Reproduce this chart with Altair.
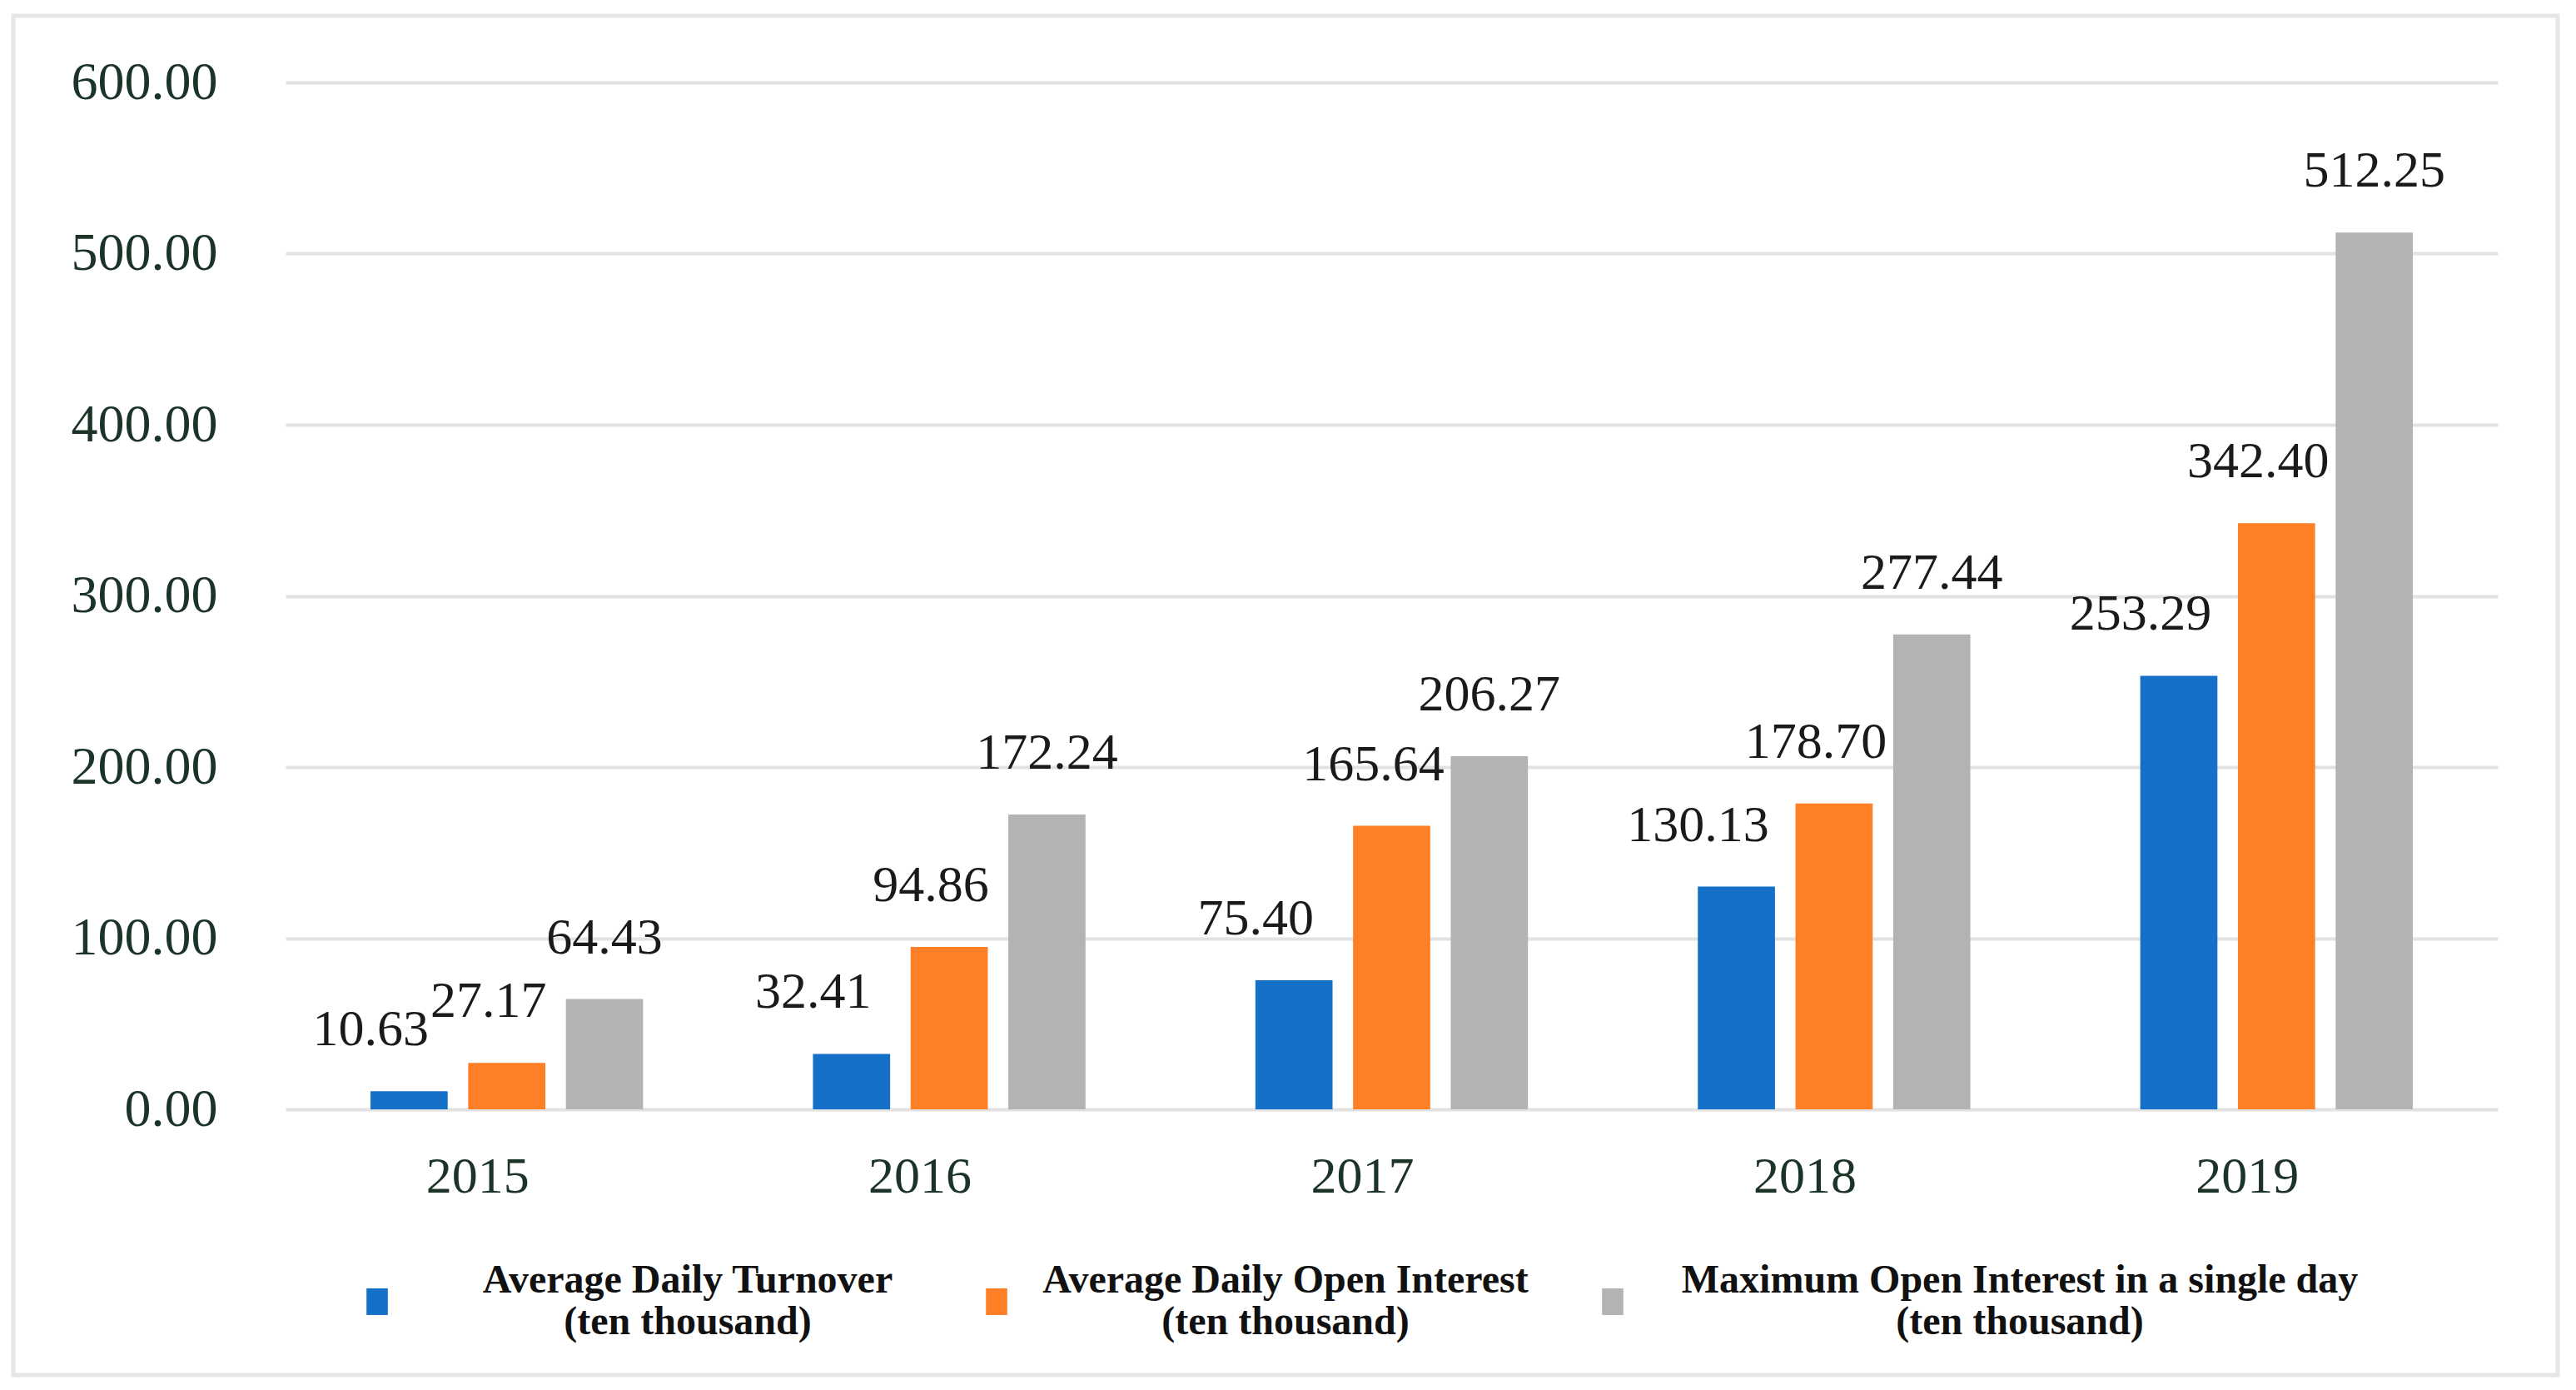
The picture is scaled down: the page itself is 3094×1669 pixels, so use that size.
import altair as alt
import pandas as pd

years = ["2015", "2016", "2017", "2018", "2019"]
series = [
    "Average Daily Turnover (ten thousand)",
    "Average Daily Open Interest (ten thousand)",
    "Maximum Open Interest in a single day (ten thousand)",
]
turnover = [10.63, 32.41, 75.40, 130.13, 253.29]
open_interest = [27.17, 94.86, 165.64, 178.70, 342.40]
max_open_interest = [64.43, 172.24, 206.27, 277.44, 512.25]
y_ticks = [0, 100, 200, 300, 400, 500, 600]

colors = ["#1570C8", "#FF7F27", "#B3B3B3"]
label_dx = [-46, -22, 0]
legend_x = [86, 830, 1570]
legend_offset = [349, 323, 465]

W, H = 2657, 1233
SERIF = "Liberation Serif"

rows = []
for s, vals in zip(series, [turnover, open_interest, max_open_interest]):
    for yr, v in zip(years, vals):
        rows.append({"year": yr, "series": s, "value": v})
df = pd.DataFrame(rows)

x_enc = alt.X(
    "year:N",
    sort=years,
    scale=alt.Scale(domain=years, paddingInner=0.384, paddingOuter=0.192),
    axis=alt.Axis(
        title=None, labelAngle=0, ticks=False, domain=False, grid=False,
        labelFont=SERIF, labelFontSize=62, labelColor="#1c3327", labelPadding=50,
        labelOffset=-35,
    ),
)
xoff = alt.XOffset(
    "series:N",
    sort=series,
    scale=alt.Scale(domain=series, paddingInner=0.21, paddingOuter=0),
)
y_enc = alt.Y(
    "value:Q",
    scale=alt.Scale(domain=[0, 600], nice=False),
    axis=alt.Axis(
        values=y_ticks, format=".2f", title=None, ticks=False, domain=False,
        labelFont=SERIF, labelFontSize=64, labelColor="#1c3327", labelPadding=82,
        gridColor="#e2e2e2", gridWidth=4,
    ),
)

frame = alt.Chart(pd.DataFrame({"k": [0]})).mark_rect(
    fill="white", fillOpacity=0, stroke="#e6e6e6", strokeWidth=5
).encode(
    x=alt.value(-327), x2=alt.value(W + 72),
    y=alt.value(-80), y2=alt.value(H + 319),
)

layers = [frame]
for i, s in enumerate(series):
    base = alt.Chart(df).transform_filter(alt.datum.series == s)
    bars = base.mark_bar().encode(
        x=x_enc,
        xOffset=xoff,
        y=y_enc,
        color=alt.Color(
            "series:N",
            scale=alt.Scale(domain=[s], range=[colors[i]]),
            legend=alt.Legend(
                title=None, orient="none", legendX=legend_x[i], legendY=1415,
                padding=0,
                symbolType="M-0.8,0.56H0.8V2.56H-0.8Z", symbolSize=1024,
                symbolStrokeWidth=0,
                labelFont=SERIF, labelFontSize=48, labelFontWeight="bold",
                labelColor="#111111", labelAlign="center",
                labelOffset=legend_offset[i], labelLimit=3000,
                labelExpr="split(replace(datum.label, ' (', '|('), '|')",
            ),
        ),
    )
    text = base.mark_text(
        dx=label_dx[i], dy=-74, baseline="middle", align="center",
        font=SERIF, fontSize=62, color="#1a1a1a",
    ).encode(
        x=x_enc,
        xOffset=xoff,
        y=y_enc,
        text=alt.Text("value:Q", format=".2f"),
    )
    layers += [bars, text]

chart = (
    alt.layer(*layers)
    .resolve_scale(color="independent")
    .properties(
        width=W, height=H,
        padding={"left": 5, "top": 8, "right": 5, "bottom": 5},
        background="white",
    )
    .configure_view(stroke=None)
)

chart.save("out.html", embed_options={"renderer": "svg", "actions": False})
